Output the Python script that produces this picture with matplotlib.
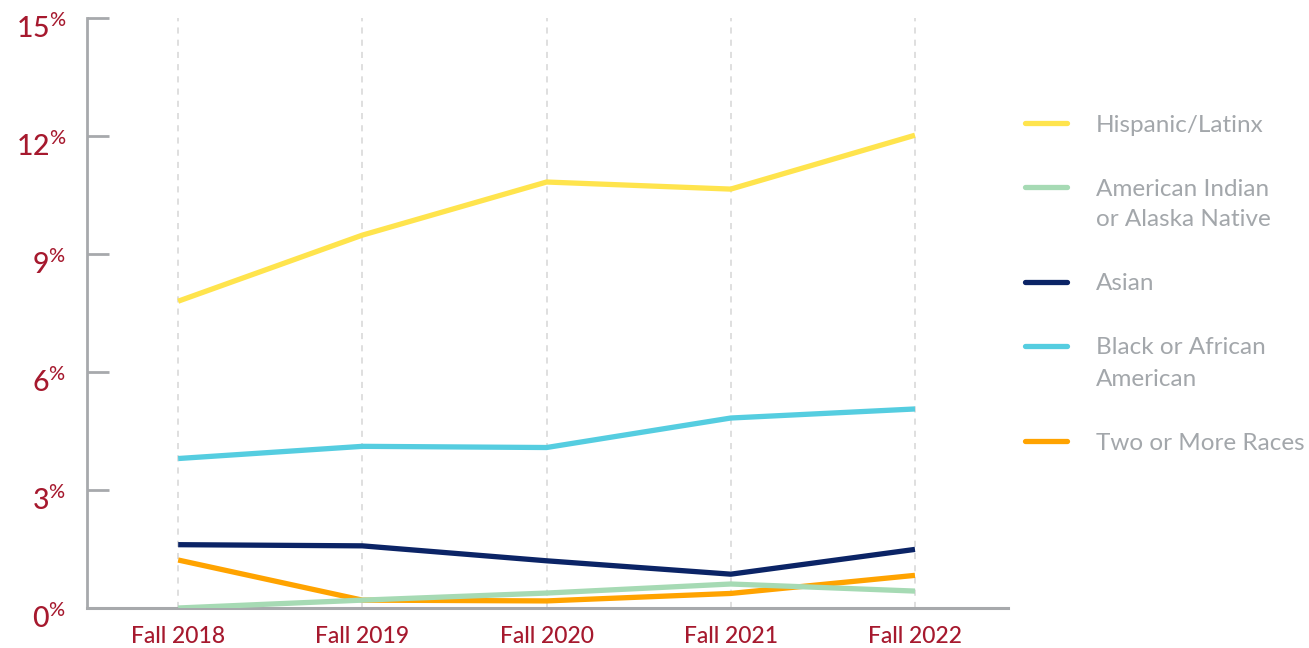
import matplotlib
matplotlib.use("Agg")
import matplotlib.pyplot as plt
from matplotlib.lines import Line2D
import matplotlib.transforms as mtransforms

# ---- data ----
years = ["Fall 2018", "Fall 2019", "Fall 2020", "Fall 2021", "Fall 2022"]
hispanic = [7.80, 9.48, 10.83, 10.65, 12.02]
aian = [0.0, 0.20, 0.38, 0.61, 0.43]
asian = [1.61, 1.58, 1.20, 0.86, 1.49]
black = [3.80, 4.11, 4.08, 4.83, 5.06]
two_more = [1.22, 0.20, 0.18, 0.37, 0.83]
yticks = [0, 3, 6, 9, 12, 15]

series_labels = ["Hispanic/Latinx", "American Indian\nor Alaska Native", "Asian",
                 "Black or African\nAmerican", "Two or More Races"]
series_values = [hispanic, aian, asian, black, two_more]
series_colors = ["#ffe44d", "#a6dab4", "#0b2466", "#55cde0", "#ffa300"]
series_z = [3, 6, 4, 3, 5]

plt.rcParams["font.family"] = ["Lato", "DejaVu Sans"]
plt.rcParams["mathtext.fontset"] = "custom"
plt.rcParams["mathtext.rm"] = "Lato:medium"
plt.rcParams["mathtext.default"] = "regular"

RED = "#a6192e"
GREY = "#a7a9ac"

W, H = 1309, 648
fig = plt.figure(figsize=(W / 100, H / 100), dpi=100)
ax = fig.add_axes([87 / W, 1 - 608 / H, (1008 - 87) / W, (608 - 18) / H])

x = list(range(len(years)))
for vals, col, z in zip(series_values, series_colors, series_z):
    ax.plot(x, vals, color=col, lw=3.8, solid_capstyle="butt", zorder=z)

ax.set_xlim(-0.495, 4.505)
ax.set_ylim(0, 15)

# vertical dashed gridlines
for xi in x:
    ax.axvline(xi, color="#d6d6d6", lw=1.1, ls=(0, (4, 4)), zorder=1)

for s in ["top", "right"]:
    ax.spines[s].set_visible(False)
ax.spines["left"].set_color(GREY)
ax.spines["left"].set_linewidth(2)
ax.spines["bottom"].set_color(GREY)
ax.spines["bottom"].set_linewidth(2.2)
ax.spines["bottom"].set_zorder(2)

ax.set_xticks(x)
ax.set_xticklabels(years, fontsize=16.5, color=RED, fontweight="medium")
ax.tick_params(axis="x", length=0, pad=13)

ax.set_yticks(yticks)
ax.set_yticklabels([f"{v}$^{{\\%}}$" for v in yticks], fontsize=20.5, color=RED,
                   fontweight="medium")
ax.tick_params(axis="y", direction="in", length=16, width=2, color=GREY, pad=15)
offset = mtransforms.ScaledTranslation(0, -8 / 100, fig.dpi_scale_trans)
for lab in ax.get_yticklabels():
    lab.set_transform(lab.get_transform() + offset)

# legend (manual)
y = 123
for lab, col in zip(series_labels, series_colors):
    fig.add_artist(Line2D([1025 / W, 1067 / W], [1 - y / H, 1 - y / H],
                          color=col, lw=3.8, solid_capstyle="round",
                          transform=fig.transFigure))
    lines = lab.split("\n")
    for i, ln in enumerate(lines):
        fig.text(1096 / W, 1 - (y + 31 * i) / H, ln, fontsize=17.5,
                 color="#a3a7ab", va="center_baseline", ha="left")
    y += 64 + 31 * (len(lines) - 1)

fig.savefig("out.png", dpi=100)
